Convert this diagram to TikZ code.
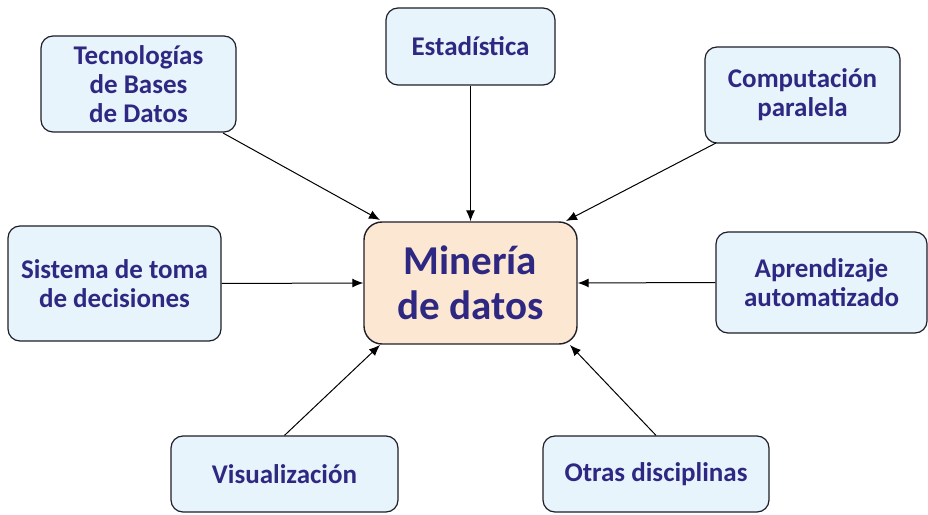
\documentclass[tikz,border=0pt]{standalone}
\usepackage{fontspec}
\setmainfont{Carlito}
\usetikzlibrary{arrows.meta}
\definecolor{txt}{RGB}{46,40,130}
\definecolor{bluefill}{RGB}{232,244,252}
\definecolor{peach}{RGB}{252,232,210}
\definecolor{edge}{RGB}{30,30,40}
\begin{document}
\begin{tikzpicture}[x=1pt,y=1pt,
  sbox/.style={draw=edge, line width=1.2pt, fill=bluefill, rounded corners=12pt,
    text=txt, font=\fontsize{27}{29}\selectfont\bfseries, align=center,
    inner sep=0pt, anchor=center},
  cbox/.style={draw=edge, line width=1.4pt, fill=peach, rounded corners=18pt,
    text=txt, font=\fontsize{41}{45}\selectfont\bfseries, align=center,
    inner sep=0pt, anchor=center},
  arr/.style={-{Latex[length=11pt,width=9pt]}, line width=1pt, draw=black}]
\useasboundingbox (0,0) rectangle (928,514);
\node[cbox, minimum width=213pt, minimum height=122pt] (c) at (470.5,231) {Minería\\de datos};
\node[sbox, minimum width=195pt, minimum height=96pt] (tec) at (138.5,430) {Tecnologías\\de Bases\\de Datos};
\node[sbox, minimum width=169pt, minimum height=77pt] (est) at (470.5,467.5) {Estadística};
\node[sbox, minimum width=195pt, minimum height=96pt] (comp) at (802.5,419) {Computación\\paralela};
\node[sbox, minimum width=213pt, minimum height=115pt] (sis) at (114.5,230.5) {Sistema de toma\\de decisiones};
\node[sbox, minimum width=211pt, minimum height=101pt] (apr) at (821.5,231.5) {Aprendizaje\\automatizado};
\node[sbox, minimum width=227pt, minimum height=76pt] (vis) at (284.5,40) {Visualización};
\node[sbox, minimum width=226pt, minimum height=76pt] (otr) at (656,40) {Otras disciplinas};
\coordinate (ctl) at (380,294);
\coordinate (ctr) at (566,293);
\coordinate (cbl) at (380,169);
\coordinate (cbr) at (570,169);
\draw[arr] (223,381) -- (ctl);
\draw[arr] (est.south) -- (c.north);
\draw[arr] (716,371) -- (ctr);
\draw[arr] (sis.east) -- (c.west);
\draw[arr] (apr.west) -- (c.east);
\draw[arr] (vis.north) -- (cbl);
\draw[arr] (otr.north) -- (cbr);
\end{tikzpicture}
\end{document}
